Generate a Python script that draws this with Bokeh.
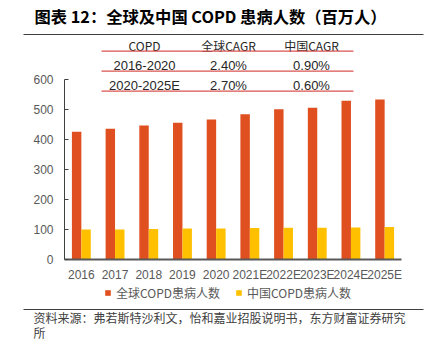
from bokeh.plotting import figure
from bokeh.models import (Range1d, Label, BoxAnnotation, Legend, LegendItem, FixedTicker)
from bokeh.transform import dodge
from bokeh.embed import file_html
from bokeh.resources import INLINE

# ---- data ----
years = ["2016", "2017", "2018", "2019", "2020", "2021E", "2022E", "2023E", "2024E", "2025E"]
global_copd = [427, 437, 448, 457, 468, 485, 502, 507, 530, 534]
china_copd = [101, 101, 103, 104, 104, 106, 107, 107, 108, 109]
series_names = ["全球COPD患病人数", "中国COPD患病人数"]
y_ticks = [0, 100, 200, 300, 400, 500, 600]

table_header = ["COPD", "全球CAGR", "中国CAGR"]
table_rows = [["2016-2020", "2.40%", "0.90%"],
              ["2020-2025E", "2.70%", "0.60%"]]

title_text = "图表 12：全球及中国 COPD 患病人数（百万人）"
source_text = "资料来源：弗若斯特沙利文，怡和嘉业招股说明书，东方财富证券研究"
source_text2 = "所"

# ---- style / layout ----
ORANGE = "#DF4F1F"
YELLOW = "#FFC000"
RULE = "#404040"
TABLE_LINE = "#D9534F"
CJK = "Noto Sans CJK SC"
W, H = 432, 341

# the plot frame covers the whole page; the axes sit at fixed locations inside it
AXIS_X = 64          # canvas x of the value axis
ZERO_Y = 259.3       # canvas y of value 0
PX_PER_UNIT = 0.3    # vertical pixels per value unit
PX_PER_CAT = 33.7    # horizontal pixels per category

x_start = -0.5 - AXIS_X / PX_PER_CAT
x_end = x_start + W / PX_PER_CAT
y_start = -(H - ZERO_Y) / PX_PER_UNIT
y_end = ZERO_Y / PX_PER_UNIT

p = figure(width=W, height=H, x_range=Range1d(x_start, x_end), y_range=Range1d(y_start, y_end),
           output_backend="svg", toolbar_location=None, min_border=0,
           min_border_left=0, min_border_right=0, min_border_top=0, min_border_bottom=0)
p.outline_line_color = None
p.xgrid.grid_line_color = None
p.ygrid.grid_line_color = None

idx = list(range(len(years)))
src = dict(i=idx, g=global_copd, c=china_copd)
r1 = p.vbar(x=dodge("i", -0.14), top="g", width=0.28, source=src,
            fill_color=ORANGE, line_color=None)
r2 = p.vbar(x=dodge("i", 0.14), top="c", width=0.28, source=src,
            fill_color=YELLOW, line_color=None)

# value axis
p.yaxis.fixed_location = -0.5
p.yaxis.ticker = FixedTicker(ticks=y_ticks)
p.yaxis.bounds = (y_ticks[0], y_ticks[-1])
p.yaxis.axis_line_color = "#404040"
p.yaxis.major_tick_line_color = "#404040"
p.yaxis.major_tick_in = 4
p.yaxis.major_tick_out = 0
p.yaxis.minor_tick_line_color = None
p.yaxis.major_label_standoff = 11
p.yaxis.major_label_text_font = "Liberation Sans"
p.yaxis.major_label_text_font_size = "12px"
p.yaxis.major_label_text_color = "#595959"

# category axis
p.xaxis.fixed_location = 0
p.xaxis.ticker = FixedTicker(ticks=idx)
p.xaxis.major_label_overrides = {i: y for i, y in zip(idx, years)}
p.xaxis.bounds = (-0.5, len(years) - 0.5)
p.xaxis.axis_line_color = "#595959"
p.xaxis.axis_line_width = 2
p.xaxis.major_tick_line_color = None
p.xaxis.minor_tick_line_color = None
p.xaxis.major_tick_in = 0
p.xaxis.major_tick_out = 0
p.xaxis.major_label_standoff = 8
p.xaxis.major_label_text_font = "Liberation Sans"
p.xaxis.major_label_text_font_size = "12px"
p.xaxis.major_label_text_color = "#595959"


def fy(Y):
    return H - Y


def add_text(x, y, t, size="12px", color="#262626", align="center", bold=False, font=CJK):
    p.add_layout(Label(x=x, y=fy(y), x_units="screen", y_units="screen", text=t,
                       text_font=font, text_font_size=size, text_color=color,
                       text_align=align, text_baseline="middle",
                       text_font_style="bold" if bold else "normal"))


def add_hline(x0, x1, y, color, th=1.0):
    p.add_layout(BoxAnnotation(left=x0, right=x1, bottom=fy(y + th / 2), top=fy(y - th / 2),
                               left_units="screen", right_units="screen",
                               bottom_units="screen", top_units="screen",
                               fill_color=color, fill_alpha=1, line_color=None,
                               level="overlay"))


# title + rule
add_text(34, 15, title_text, size="16.3px", color="#000000", align="left", bold=True)
add_hline(23, 423, 34, RULE, 1.2)

# CAGR table
col_x = [144, 228, 311]
for j, h in enumerate(table_header):
    add_text(col_x[j], 45, h, size="12px")
for i, row in enumerate(table_rows):
    yy = 64.5 + 20 * i
    for j, cell in enumerate(row):
        add_text(col_x[j], yy, cell, size="13px", font="Liberation Sans")
for yl in [50.7, 70.7, 90.7]:
    add_hline(101, 353, yl, TABLE_LINE, 1.3)

# legend
legend = Legend(items=[LegendItem(label=series_names[0], renderers=[r1]),
                       LegendItem(label=series_names[1], renderers=[r2])],
                orientation="horizontal", location=(104, H - 301),
                glyph_width=7, glyph_height=7, label_height=14, spacing=15, label_standoff=5,
                label_text_font=CJK, label_text_font_size="12px", label_text_color="#595959",
                background_fill_alpha=0, border_line_color=None, padding=0, margin=0)
p.add_layout(legend, "center")

# source + rule
add_hline(23, 423, 309, RULE, 1.2)
add_text(33, 317, source_text, size="12px", color="#404040", align="left")
add_text(33, 331.5, source_text2, size="12px", color="#404040", align="left")

open("out.html", "w").write(file_html(p, INLINE))
